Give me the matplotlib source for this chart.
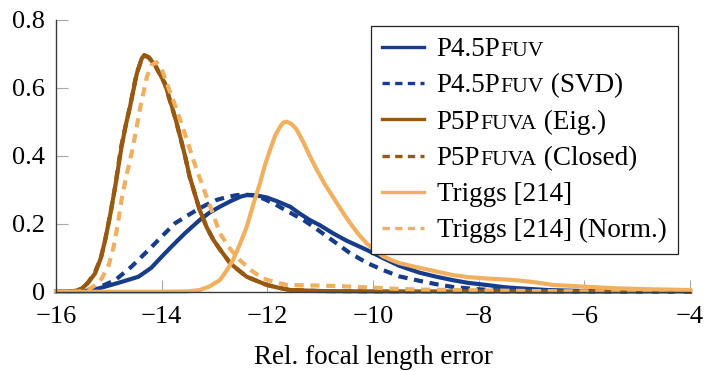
import matplotlib
matplotlib.use("Agg")
import matplotlib.pyplot as plt
from matplotlib.offsetbox import AnchoredOffsetbox, VPacker, HPacker, TextArea, DrawingArea
from matplotlib.lines import Line2D

plt.rcParams['font.family'] = ['Liberation Serif', 'DejaVu Serif']

# ---------------- data ----------------
blue_solid_x = [-16.0, -15.6, -15.3, -15.07, -14.8, -14.44, -14.2, -14.0, -13.8, -13.56, -13.28, -13.1,
                -12.9, -12.7, -12.5, -12.39, -12.2, -12.01, -11.8, -11.57, -11.39, -11.2, -11.0, -10.76,
                -10.5, -10.12, -9.8, -9.5, -9.12, -8.8, -8.49, -8.2, -7.86, -7.5, -7.23, -6.7, -6.0, -5.0, -4.0]
blue_solid_y = [0.0, 0.0, 0.005, 0.015, 0.027, 0.044, 0.07, 0.103, 0.135, 0.172, 0.211, 0.232,
                0.25, 0.266, 0.28, 0.284, 0.283, 0.277, 0.265, 0.25, 0.23, 0.211, 0.195, 0.172,
                0.15, 0.123, 0.098, 0.076, 0.056, 0.044, 0.034, 0.026, 0.02, 0.013, 0.01, 0.005, 0.002, 0.0, 0.0]

blue_dash_x = [-16.0, -15.5, -15.2, -14.88, -14.57, -14.19, -13.95, -13.75, -13.5, -13.34, -13.15, -12.96,
               -12.75, -12.58, -12.4, -12.27, -12.05, -11.83, -11.6, -11.32, -11.1, -10.76, -10.45, -10.12,
               -9.8, -9.5, -9.12, -8.8, -8.49, -8.0, -7.5, -7.0, -6.0, -4.0]
blue_dash_y = [0.0, 0.002, 0.012, 0.034, 0.074, 0.132, 0.17, 0.201, 0.225, 0.24, 0.256, 0.27,
               0.279, 0.284, 0.285, 0.284, 0.272, 0.255, 0.235, 0.211, 0.188, 0.15, 0.115, 0.085,
               0.063, 0.045, 0.032, 0.022, 0.014, 0.007, 0.003, 0.001, 0.0, 0.0]

brown_solid_x = [-16.0, -15.8, -15.6, -15.51, -15.4, -15.26, -15.15, -15.07, -14.97, -14.88, -14.76, -14.68,
                 -14.6, -14.47, -14.38, -14.33, -14.25, -14.13, -13.94, -13.75, -13.65, -13.56, -13.47, -13.28,
                 -13.15, -13.02, -12.9, -12.7, -12.52, -12.39, -12.14, -12.01, -11.8, -11.57, -11.0, -10.0, -4.0]
brown_solid_y = [0.0, 0.0, 0.003, 0.01, 0.025, 0.054, 0.1, 0.152, 0.23, 0.309, 0.426, 0.49,
                 0.544, 0.642, 0.685, 0.696, 0.69, 0.667, 0.613, 0.515, 0.456, 0.4, 0.338, 0.24,
                 0.19, 0.152, 0.125, 0.083, 0.06, 0.044, 0.028, 0.02, 0.012, 0.005, 0.002, 0.001, 0.0]

brown_dash_x = [-16.0, -15.8, -15.6, -15.52, -15.4, -15.27, -15.15, -15.07, -14.97, -14.88, -14.77, -14.68,
                -14.6, -14.48, -14.38, -14.32, -14.24, -14.12, -13.94, -13.75, -13.65, -13.56, -13.47, -13.28,
                -13.15, -13.02, -12.9, -12.7, -12.52, -12.39, -12.14, -12.01, -11.8, -11.57, -11.0, -10.0, -4.0]
brown_dash_y = [0.0, 0.0, 0.003, 0.01, 0.026, 0.055, 0.1, 0.153, 0.23, 0.31, 0.425, 0.49,
                0.545, 0.64, 0.683, 0.694, 0.688, 0.665, 0.61, 0.513, 0.455, 0.4, 0.337, 0.24,
                0.19, 0.152, 0.125, 0.083, 0.06, 0.044, 0.028, 0.02, 0.012, 0.005, 0.002, 0.001, 0.0]

trig_solid_x = [-16.0, -14.0, -13.5, -13.28, -13.1, -12.9, -12.78, -12.65, -12.52, -12.39, -12.27, -12.14,
                -12.05, -11.95, -11.85, -11.76, -11.7, -11.64, -11.55, -11.45, -11.32, -11.2, -11.07, -10.92,
                -10.76, -10.6, -10.44, -10.28, -10.12, -9.95, -9.81, -9.65, -9.5, -9.2, -8.93, -8.7,
                -8.49, -8.2, -7.86, -7.5, -7.23, -6.9, -6.6, -6.0, -5.4, -4.7, -4.0]
trig_solid_y = [0.0, 0.0, 0.001, 0.005, 0.015, 0.034, 0.06, 0.093, 0.14, 0.191, 0.255, 0.319,
                0.37, 0.417, 0.46, 0.485, 0.497, 0.5, 0.494, 0.478, 0.44, 0.4, 0.36, 0.318,
                0.279, 0.24, 0.203, 0.17, 0.142, 0.12, 0.104, 0.093, 0.084, 0.073, 0.064, 0.056,
                0.049, 0.043, 0.039, 0.036, 0.033, 0.027, 0.02, 0.015, 0.01, 0.007, 0.005]

trig_dash_x = [-16.0, -15.6, -15.4, -15.25, -15.13, -15.0, -14.91, -14.84, -14.76, -14.67, -14.57, -14.49,
               -14.41, -14.28, -14.2, -14.1, -14.0, -13.88, -13.75, -13.65, -13.52, -13.4, -13.27, -13.15,
               -13.02, -12.9, -12.7, -12.52, -12.3, -12.08, -11.85, -11.64, -11.0, -10.4, -10.0, -9.5,
               -9.0, -8.0, -7.0, -6.0, -4.0]
trig_dash_y = [0.0, 0.0, 0.005, 0.02, 0.04, 0.08, 0.132, 0.19, 0.27, 0.34, 0.407, 0.47,
               0.539, 0.632, 0.665, 0.675, 0.655, 0.603, 0.55, 0.505, 0.445, 0.387, 0.33, 0.279,
               0.225, 0.172, 0.125, 0.093, 0.062, 0.039, 0.028, 0.02, 0.018, 0.015, 0.012, 0.008,
               0.006, 0.004, 0.002, 0.001, 0.0]

legend_main = ["P4.5P", "P4.5P", "P5P", "P5P", "Triggs [214]", "Triggs [214]"]
legend_caps = ["FUV", "FUV", "FUVA", "FUVA", "", ""]
legend_tail = ["", " (SVD)", " (Eig.)", " (Closed)", "", " (Norm.)"]

x_ticks = [-16, -14, -12, -10, -8, -6, -4]
y_ticks = [0, 0.2, 0.4, 0.6, 0.8]
y_tick_labels = ["0", "0.2", "0.4", "0.6", "0.8"]
x_label = "Rel. focal length error"

# ---------------- styles ----------------
BLUE = "#173C89"
BROWN = "#985810"
ORANGE = "#F0B060"
LW = 3.0
DASH = (0, (2.2, 1.6))
FS = 19
FS_LEG = 19.5

fig = plt.figure(figsize=(7.12, 3.71), dpi=100)
ax = fig.add_axes([0.0787, 0.2137, 0.8905, 0.7333])

series = [
    (blue_solid_x, blue_solid_y, BLUE, '-'),
    (blue_dash_x, blue_dash_y, BLUE, DASH),
    (brown_solid_x, brown_solid_y, BROWN, '-'),
    (brown_dash_x, brown_dash_y, BROWN, DASH),
    (trig_solid_x, trig_solid_y, ORANGE, '-'),
    (trig_dash_x, trig_dash_y, ORANGE, DASH),
]
for xs, ys, c, ls in series:
    ax.plot(xs, ys, color=c, lw=LW, linestyle=ls, solid_joinstyle='round', clip_on=False)

ax.set_xlim(-16, -4)
ax.set_ylim(0, 0.8)
ax.set_xticks(x_ticks)
ax.set_yticks(y_ticks)
ax.set_yticklabels(y_tick_labels)
for s in ['top', 'right']:
    ax.spines[s].set_visible(False)
for s in ['left', 'bottom']:
    ax.spines[s].set_color('#3a3a3a')
    ax.spines[s].set_linewidth(1.0)
ax.tick_params(direction='in', length=8.5, width=0.8, color='#a8a8a8', labelsize=FS)
ax.tick_params(axis='x', pad=10)
ax.tick_params(axis='y', pad=8)
ax.set_xlabel(x_label, fontsize=FS_LEG, labelpad=12.5)

# ---------------- legend with small caps ----------------
rows = []
for i, (xs, ys, c, ls) in enumerate(series):
    da = DrawingArea(30, 16, 0, 0)
    da.add_artist(Line2D([0, 30], [10, 10], color=c, lw=LW * 0.8, linestyle=ls))
    parts = [TextArea(legend_main[i], textprops=dict(size=FS_LEG))]
    if legend_caps[i]:
        parts.append(TextArea(legend_caps[i], textprops=dict(size=FS_LEG * 0.8)))
    if legend_tail[i]:
        parts.append(TextArea(legend_tail[i], textprops=dict(size=FS_LEG)))
    txt = HPacker(children=parts, align="baseline", pad=0, sep=0)
    rows.append(HPacker(children=[da, txt], align="center", pad=0, sep=9.4))
box = VPacker(children=rows, align="left", pad=0, sep=8.0)
ab = AnchoredOffsetbox(loc='upper right', child=box, pad=0.42, borderpad=0,
                       frameon=True, bbox_to_anchor=(0.981, 0.977),
                       bbox_transform=ax.transAxes, prop=dict(size=FS_LEG))
ab.patch.set_boxstyle("square", pad=0)
ab.patch.set_edgecolor('#222222')
ab.patch.set_linewidth(0.9)
ab.set_zorder(5)
ax.add_artist(ab)

fig.savefig("out.png", dpi=100)
